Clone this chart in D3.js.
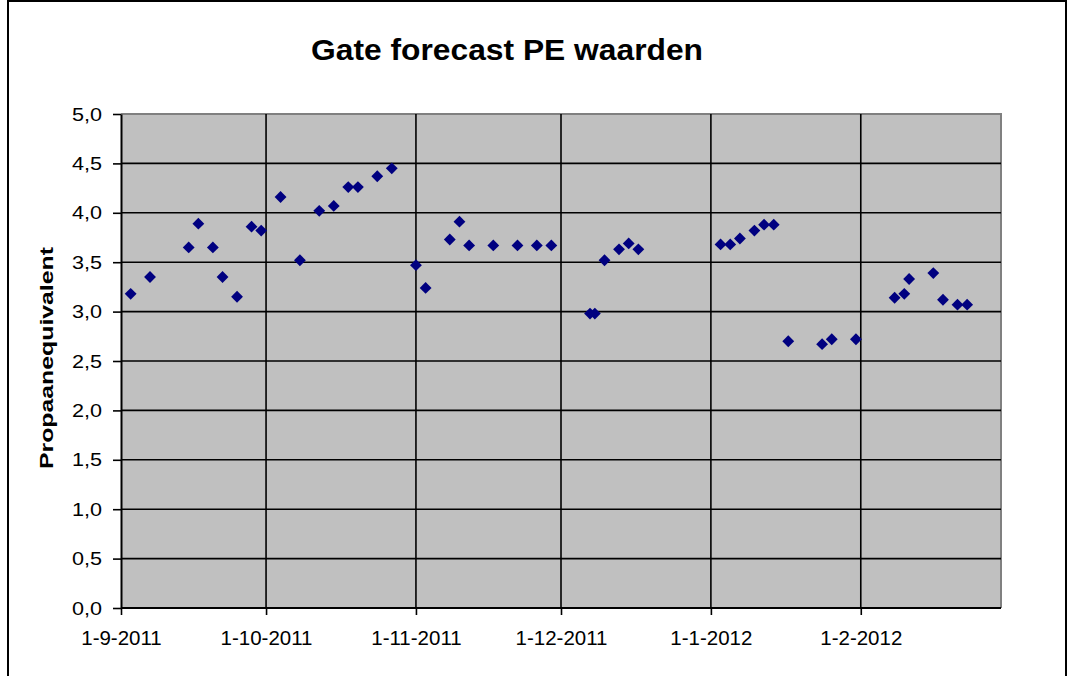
<!DOCTYPE html>
<html>
<head>
<meta charset="utf-8">
<script src="https://cdn.jsdelivr.net/npm/d3@7"></script>
<style>
  html, body { margin: 0; padding: 0; background: #fff; }
  svg { display: block; }
</style>
</head>
<body>
<svg id="chart" width="1071" height="676"></svg>
<script>
const chartTitle = "Gate forecast PE waarden";
const yAxisTitle = "Propaanequivalent";

const dates = [
  "2011-09-03","2011-09-07","2011-09-15","2011-09-17","2011-09-20","2011-09-22","2011-09-25","2011-09-28","2011-09-30",
  "2011-10-04","2011-10-08","2011-10-12","2011-10-15","2011-10-18","2011-10-20","2011-10-24","2011-10-27",
  "2011-11-01","2011-11-03","2011-11-08","2011-11-10","2011-11-12","2011-11-17","2011-11-22","2011-11-26","2011-11-29",
  "2011-12-07","2011-12-08","2011-12-10","2011-12-13","2011-12-15","2011-12-17",
  "2012-01-03","2012-01-05","2012-01-07","2012-01-10","2012-01-12","2012-01-14","2012-01-17","2012-01-24","2012-01-26","2012-01-31",
  "2012-02-08","2012-02-10","2012-02-11","2012-02-16","2012-02-18","2012-02-21","2012-02-23"
];
const peValues = [
  3.18, 3.35, 3.65, 3.89, 3.65, 3.35, 3.15, 3.86, 3.82,
  4.16, 3.52, 4.02, 4.07, 4.26, 4.26, 4.37, 4.45,
  3.47, 3.24, 3.73, 3.91, 3.67, 3.67, 3.67, 3.67, 3.67,
  2.98, 2.98, 3.52, 3.63, 3.69, 3.63,
  3.68, 3.68, 3.74, 3.82, 3.88, 3.88, 2.70, 2.67, 2.72, 2.72,
  3.14, 3.18, 3.33, 3.39, 3.12, 3.07, 3.07
];
const xTickDates = ["2011-09-01","2011-10-01","2011-11-01","2011-12-01","2012-01-01","2012-02-01"];
const xDomain = ["2011-09-01","2012-03-01"];
const yTicks = [0, 0.5, 1, 1.5, 2, 2.5, 3, 3.5, 4, 4.5, 5];

const parse = d3.timeParse("%Y-%m-%d");
const points = dates.map((d, i) => ({ date: parse(d), value: peValues[i] }));

const svg = d3.select("#chart");
const plot = { left: 121, right: 1001, top: 114, bottom: 608 };

const x = d3.scaleTime().domain(xDomain.map(parse)).range([plot.left, plot.right]);
const y = d3.scaleLinear().domain([0, 5]).range([plot.bottom, plot.top]);

const locale = d3.formatLocale({ decimal: ",", thousands: ".", grouping: [3], currency: ["€", ""] });
const yFmt = locale.format(".1f");
const xFmt = d3.timeFormat("%-d-%-m-%Y");
const FONT = "'Liberation Sans', Arial, sans-serif";

// outer frame
svg.append("rect")
  .attr("x", 8).attr("y", 1).attr("width", 1058).attr("height", 700)
  .attr("fill", "#fff").attr("stroke", "#000").attr("stroke-width", 2);

// plot background
svg.append("rect")
  .attr("x", plot.left).attr("y", plot.top)
  .attr("width", plot.right - plot.left).attr("height", plot.bottom - plot.top)
  .attr("fill", "#c0c0c0");

// gray border top/right
svg.append("path")
  .attr("d", `M${plot.left},${plot.top}H${plot.right}V${plot.bottom}`)
  .attr("fill", "none").attr("stroke", "#808080").attr("stroke-width", 2);

// horizontal gridlines
svg.append("g")
  .selectAll("line")
  .data(yTicks.filter(v => v > 0 && v < 5))
  .join("line")
  .attr("x1", plot.left).attr("x2", plot.right)
  .attr("y1", d => y(d)).attr("y2", d => y(d))
  .attr("stroke", "#000").attr("stroke-width", 1.6);

// vertical gridlines
svg.append("g")
  .selectAll("line")
  .data(xTickDates.slice(1).map(parse))
  .join("line")
  .attr("x1", d => x(d)).attr("x2", d => x(d))
  .attr("y1", plot.top).attr("y2", plot.bottom)
  .attr("stroke", "#000").attr("stroke-width", 1.6);

// y axis
const yAxis = d3.axisLeft(y).tickValues(yTicks).tickFormat(yFmt).tickSizeInner(8).tickSizeOuter(0).tickPadding(11);
const gy = svg.append("g").attr("transform", `translate(${plot.left},0)`).call(yAxis);
gy.select(".domain").attr("stroke", "#000").attr("stroke-width", 2);
gy.selectAll(".tick line").attr("stroke", "#000").attr("stroke-width", 1.6);
gy.selectAll(".tick text")
  .attr("font-family", FONT)
  .attr("font-size", 19).attr("fill", "#000")
  .attr("textLength", 30).attr("lengthAdjust", "spacingAndGlyphs");

// x axis
const xAxis = d3.axisBottom(x).tickValues(xTickDates.map(parse)).tickFormat(xFmt).tickSizeInner(7).tickSizeOuter(0).tickPadding(15);
const gx = svg.append("g").attr("transform", `translate(0,${plot.bottom})`).call(xAxis);
gx.select(".domain").attr("stroke", "#000").attr("stroke-width", 2)
  .attr("d", `M${plot.left},0H${plot.right}`);
gx.selectAll(".tick line").attr("stroke", "#000").attr("stroke-width", 1.6);
gx.selectAll(".tick text")
  .attr("font-family", FONT)
  .attr("font-size", 20.5).attr("fill", "#000");

// points (diamonds)
const diamond = d3.symbol().type(d3.symbolSquare).size(70);
svg.append("g")
  .selectAll("path")
  .data(points)
  .join("path")
  .attr("d", diamond)
  .attr("transform", d => `translate(${x(d.date)},${y(d.value)}) rotate(45)`)
  .attr("fill", "#000080");

// title
svg.append("text")
  .attr("x", 507).attr("y", 60)
  .attr("text-anchor", "middle")
  .attr("font-family", FONT)
  .attr("font-weight", "bold")
  .attr("font-size", 30)
  .attr("fill", "#000")
  .attr("textLength", 392).attr("lengthAdjust", "spacingAndGlyphs")
  .text(chartTitle);

// y axis title
svg.append("text")
  .attr("transform", `translate(53,358) rotate(-90)`)
  .attr("text-anchor", "middle")
  .attr("font-family", FONT)
  .attr("font-weight", "bold")
  .attr("font-size", 19)
  .attr("fill", "#000")
  .attr("textLength", 222).attr("lengthAdjust", "spacingAndGlyphs")
  .text(yAxisTitle);
</script>
</body>
</html>
